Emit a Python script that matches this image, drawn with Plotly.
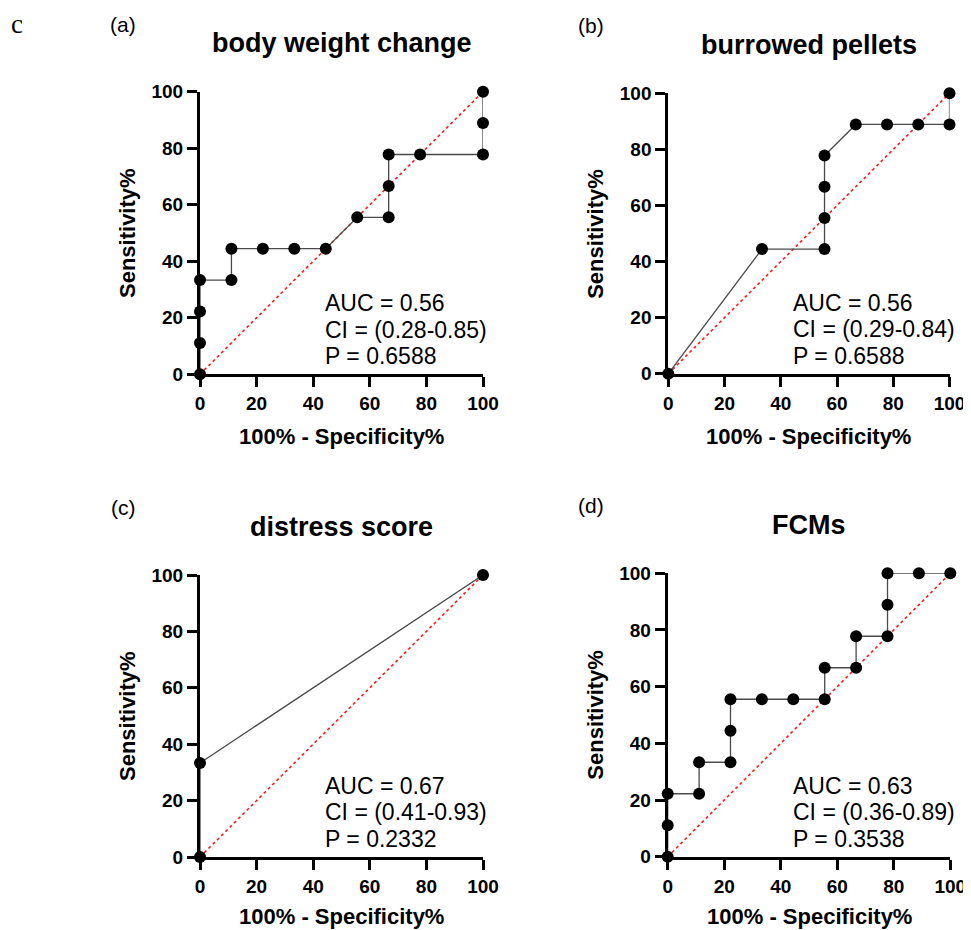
import plotly.graph_objects as go

# ---- data (percent values) ----
a_x = [0, 0, 0, 0, 11.11, 11.11, 22.22, 33.33, 44.44, 55.56, 66.67, 66.67, 66.67, 77.78, 100, 100, 100]
a_y = [0, 11.11, 22.22, 33.33, 33.33, 44.44, 44.44, 44.44, 44.44, 55.56, 55.56, 66.67, 77.78, 77.78, 77.78, 88.89, 100]
b_x = [0, 33.33, 55.56, 55.56, 55.56, 55.56, 66.67, 77.78, 88.89, 100, 100]
b_y = [0, 44.44, 44.44, 55.56, 66.67, 77.78, 88.89, 88.89, 88.89, 88.89, 100]
c_x = [0, 0, 100]
c_y = [0, 33.33, 100]
d_x = [0, 0, 0, 11.11, 11.11, 22.22, 22.22, 22.22, 33.33, 44.44, 55.56, 55.56, 66.67, 66.67, 77.78, 77.78, 77.78, 88.89, 100]
d_y = [0, 11.11, 22.22, 22.22, 33.33, 33.33, 44.44, 55.56, 55.56, 55.56, 55.56, 66.67, 66.67, 77.78, 77.78, 88.89, 100, 100, 100]

titles = ["body weight change", "burrowed pellets", "distress score", "FCMs"]
panel_labels = ["(a)", "(b)", "(c)", "(d)"]
auc_text = ["AUC = 0.56", "AUC = 0.56", "AUC = 0.67", "AUC = 0.63"]
ci_text = ["CI = (0.28-0.85)", "CI = (0.29-0.84)", "CI = (0.41-0.93)", "CI = (0.36-0.89)"]
p_text = ["P = 0.6588", "P = 0.6588", "P = 0.2332", "P = 0.3538"]
diag = [0, 100]
ticks = [0, 20, 40, 60, 80, 100]

series = [(a_x, a_y), (b_x, b_y), (c_x, c_y), (d_x, d_y)]

# the page has an 8px body margin, so window pixel p sits at figure pixel p - 8
OFF = 8
W, H = 971, 930


def px(xp):
    return (xp - OFF) / W


def py(yp):
    return 1 - (yp - OFF) / H


# plot-area boxes in window pixels (left, right, top, bottom)
boxes = [(200, 483, 91.7, 374.3), (668.3, 949.5, 93.3, 373.7),
         (200, 483, 575, 857), (667.7, 950.3, 573.3, 856.7)]

FONT = "Liberation Sans, Arial, sans-serif"

fig = go.Figure()
annotations = []
layout = {}

for i, ((xs, ys), (l, r, t, b)) in enumerate(zip(series, boxes)):
    n = "" if i == 0 else str(i + 1)
    xa, ya = "x" + n, "y" + n
    fig.add_trace(go.Scatter(x=diag, y=diag, xaxis=xa, yaxis=ya, mode="lines",
                             line=dict(color="#ff1a1a", width=1.6, dash="dot"),
                             hoverinfo="skip", showlegend=False, cliponaxis=False))
    fig.add_trace(go.Scatter(x=xs, y=ys, xaxis=xa, yaxis=ya, mode="lines+markers",
                             line=dict(color="#4a4a4a", width=1.3),
                             marker=dict(color="black", size=12),
                             showlegend=False, cliponaxis=False))
    axis_common = dict(range=[0, 100], tickvals=ticks, showgrid=False, zeroline=False,
                       showline=True, linecolor="black", linewidth=3, automargin=False,
                       ticks="outside", ticklen=10, tickwidth=3, tickcolor="black",
                       tickfont=dict(family=FONT, size=19, color="black", weight="bold"))
    layout["xaxis" + n] = dict(axis_common, domain=[px(l), px(r)], anchor=ya)
    layout["yaxis" + n] = dict(axis_common, domain=[py(b), py(t)], anchor=xa)

    cx = (l + r) / 2
    cy = (t + b) / 2
    # subplot title
    annotations.append(dict(text="<b>%s</b>" % titles[i], xref="paper", yref="paper",
                            x=px(cx), y=py(t - 48.5), xanchor="center", yanchor="middle",
                            showarrow=False, font=dict(family=FONT, size=27, color="black")))
    # panel label
    annotations.append(dict(text=panel_labels[i], xref="paper", yref="paper",
                            x=px(l - 77), y=py(t - 67.5), xanchor="center", yanchor="middle",
                            showarrow=False, font=dict(family=FONT, size=21, color="black")))
    # x title
    annotations.append(dict(text="<b>100% - Specificity%</b>", xref="paper", yref="paper",
                            x=px(cx), y=py(min(b + 62.5, 916)), xanchor="center", yanchor="middle",
                            showarrow=False, font=dict(family=FONT, size=22, color="black")))
    # y title
    annotations.append(dict(text="<b>Sensitivity%</b>", xref="paper", yref="paper",
                            x=px(l - 73), y=py(cy), xanchor="center", yanchor="middle",
                            textangle=-90, showarrow=False,
                            font=dict(family=FONT, size=22, color="black")))
    # stats text
    for txt, yv in zip([auc_text[i], ci_text[i], p_text[i]], [25.1, 15.8, 6.4]):
        annotations.append(dict(text=txt, xref=xa, yref=ya, x=43.6, y=yv,
                                xanchor="left", yanchor="middle", showarrow=False,
                                font=dict(family=FONT, size=23, color="black")))

annotations.append(dict(text="c", xref="paper", yref="paper", x=px(17), y=py(24),
                        xanchor="center", yanchor="middle", showarrow=False,
                        font=dict(family="Liberation Serif, Times New Roman, serif", size=27, color="black")))

fig.update_layout(width=W, height=H, margin=dict(l=0, r=0, t=0, b=0, pad=0, autoexpand=False),
                  paper_bgcolor="white", plot_bgcolor="white",
                  annotations=annotations, **layout)

fig.write_html("out.html")
